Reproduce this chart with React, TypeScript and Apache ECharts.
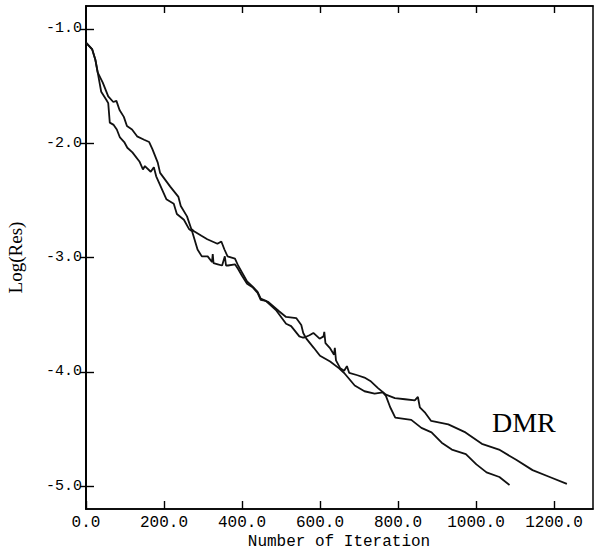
import React, { useEffect, useRef } from "react";
import * as echarts from "echarts";

// Tick values
const xTicks = [0, 200, 400, 600, 800, 1000, 1200];
const yTicks = [-5, -4, -3, -2, -1];

// Curve ending near 1090 iterations (smoother curve)
const curveAX = [0, 16, 24, 30, 43, 57, 70, 78, 86, 97, 105, 118, 131, 149, 162, 170, 184, 190, 216, 237, 243, 259, 270, 277, 296, 311, 324, 337, 347, 355, 363, 382, 390, 400, 413, 426, 440, 448, 468, 495, 513, 539, 552, 557, 565, 584, 600, 626, 649, 662, 689, 714, 740, 761, 769, 780, 793, 834, 860, 886, 912, 938, 974, 1001, 1027, 1060, 1086];
const curveAY = [-1.12, -1.18, -1.27, -1.38, -1.47, -1.59, -1.64, -1.63, -1.71, -1.77, -1.85, -1.88, -1.94, -1.97, -1.99, -2.05, -2.17, -2.26, -2.38, -2.47, -2.55, -2.64, -2.75, -2.77, -2.81, -2.84, -2.86, -2.88, -2.86, -2.93, -2.99, -3.01, -3.07, -3.13, -3.21, -3.25, -3.30, -3.36, -3.39, -3.47, -3.52, -3.53, -3.59, -3.66, -3.71, -3.79, -3.86, -3.91, -3.97, -4.01, -4.12, -4.17, -4.19, -4.18, -4.21, -4.31, -4.40, -4.42, -4.49, -4.53, -4.62, -4.68, -4.72, -4.81, -4.88, -4.92, -4.99];

// Curve ending near 1230 iterations (noisier curve)
const curveBX = [0, 16, 24, 30, 39, 52, 57, 61, 71, 79, 87, 98, 106, 119, 137, 146, 151, 166, 174, 180, 206, 225, 233, 251, 264, 272, 286, 297, 312, 323, 325, 327, 338, 349, 356, 359, 364, 382, 390, 400, 413, 427, 440, 448, 461, 487, 513, 526, 547, 555, 560, 573, 583, 599, 609, 611, 614, 625, 636, 638, 641, 652, 662, 669, 675, 696, 714, 729, 748, 769, 792, 818, 843, 851, 856, 870, 885, 929, 973, 1015, 1059, 1103, 1145, 1189, 1233];
const curveBY = [-1.12, -1.18, -1.27, -1.38, -1.55, -1.62, -1.65, -1.82, -1.84, -1.88, -1.95, -1.99, -2.04, -2.08, -2.16, -2.23, -2.20, -2.25, -2.21, -2.29, -2.49, -2.53, -2.62, -2.67, -2.75, -2.77, -2.93, -2.99, -2.99, -3.04, -2.97, -3.05, -3.06, -3.07, -2.99, -3.07, -3.07, -3.06, -3.10, -3.16, -3.23, -3.26, -3.31, -3.37, -3.38, -3.46, -3.58, -3.60, -3.69, -3.70, -3.70, -3.68, -3.66, -3.71, -3.69, -3.65, -3.75, -3.79, -3.85, -3.79, -3.90, -3.97, -3.99, -3.95, -4.01, -4.03, -4.05, -4.08, -4.14, -4.20, -4.23, -4.24, -4.25, -4.22, -4.31, -4.36, -4.43, -4.46, -4.53, -4.63, -4.68, -4.77, -4.86, -4.92, -4.98];

const MONO = "'Liberation Mono', 'DejaVu Sans Mono', monospace";
const SERIF = "'Liberation Serif', 'DejaVu Serif', serif";

export default function App() {
  const ref = useRef<HTMLDivElement>(null);
  useEffect(() => {
    if (!ref.current) return;
    const chart = echarts.init(ref.current, undefined, { renderer: "svg" });
    const lineStyle = { color: "#111", width: 1.8 };
    const tickStyle = { color: "#000", width: 1.4 };
    chart.setOption({
      animation: false,
      backgroundColor: "#fff",
      grid: {
        left: 86,
        right: 3,
        top: 6,
        bottom: 43,
        show: true,
        borderColor: "#000",
        borderWidth: 1.5,
        outerBoundsMode: "none",
      },
      xAxis: [
        {
          type: "value",
          min: 0,
          max: 1300,
          position: "bottom",
          axisLine: { show: true, lineStyle: { color: "#000", width: 1.5 } },
          axisTick: { show: true, inside: true, length: 8, customValues: xTicks, lineStyle: tickStyle },
          axisLabel: {
            show: true,
            customValues: xTicks,
            margin: 6,
            fontFamily: MONO,
            fontSize: 16,
            color: "#000",
            formatter: (v: number) => v.toFixed(1),
          },
          splitLine: { show: false },
        },
        {
          type: "value",
          min: 0,
          max: 1300,
          position: "top",
          axisLine: { show: true, lineStyle: { color: "#000", width: 1.5 } },
          axisTick: { show: true, inside: true, length: 7, customValues: xTicks.slice(1), lineStyle: tickStyle },
          axisLabel: { show: false },
          splitLine: { show: false },
        },
      ],
      yAxis: [
        {
          type: "value",
          min: -5.2,
          max: -0.8,
          position: "left",
          name: "Log(Res)",
          nameLocation: "middle",
          nameGap: 61,
          nameTextStyle: { fontFamily: SERIF, fontSize: 19, color: "#000" },
          axisLine: { show: true, lineStyle: { color: "#000", width: 1.5 } },
          axisTick: { show: true, inside: true, length: 8, customValues: yTicks, lineStyle: tickStyle },
          axisLabel: {
            show: true,
            customValues: yTicks,
            margin: 4,
            fontFamily: MONO,
            fontSize: 15,
            color: "#000",
            formatter: (v: number) => v.toFixed(1),
          },
          splitLine: { show: false },
        },
        {
          type: "value",
          min: -5.2,
          max: -0.8,
          position: "right",
          axisLine: { show: true, lineStyle: { color: "#000", width: 1.5 } },
          axisTick: { show: true, inside: true, length: 6, customValues: yTicks, lineStyle: tickStyle },
          axisLabel: { show: false },
          splitLine: { show: false },
        },
      ],
      graphic: [
        {
          type: "text",
          x: 339,
          y: 542,
          style: {
            text: "Number of Iteration",
            font: `16px ${MONO}`,
            fill: "#000",
            align: "center",
            verticalAlign: "middle",
          },
        },
        {
          type: "text",
          x: 492,
          y: 422,
          style: {
            text: "DMR",
            font: `28px ${SERIF}`,
            fill: "#000",
            align: "left",
            verticalAlign: "middle",
          },
        },
      ],
      series: [
        {
          type: "line",
          xAxisIndex: 0,
          yAxisIndex: 0,
          showSymbol: false,
          lineStyle,
          data: curveAX.map((x, i) => [x, curveAY[i]]),
        },
        {
          type: "line",
          xAxisIndex: 0,
          yAxisIndex: 0,
          showSymbol: false,
          lineStyle,
          data: curveBX.map((x, i) => [x, curveBY[i]]),
        },
      ],
    });
    return () => chart.dispose();
  }, []);
  return <div ref={ref} style={{ width: 596, height: 552, position: "absolute", left: 0, top: 0 }} />;
}
